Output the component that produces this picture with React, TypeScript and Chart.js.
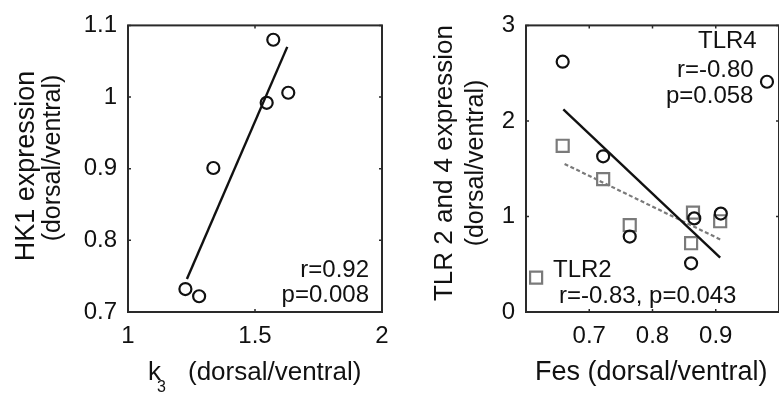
import React, { useEffect, useRef } from 'react';
import { Chart, registerables } from 'chart.js';

Chart.register(...registerables);

const FONT = "'Liberation Sans', Arial, Helvetica, sans-serif";
const INK = '#111111';
const BOX = '#2a2a2a';
const GRAY = '#7a7a7a';

// ---- Left panel: HK1 vs k3 ----
const hk1K3 = [1.572, 1.631, 1.546, 1.336, 1.226, 1.28];
const hk1Expr = [1.08, 1.006, 0.992, 0.901, 0.732, 0.722];
const hk1FitK3 = [1.232, 1.627];
const hk1FitExpr = [0.746, 1.07];
const leftXTicks = [1, 1.5, 2];
const leftXTickLabels = ['1', '1.5', '2'];
const leftYTicks = [0.7, 0.8, 0.9, 1.0, 1.1];
const leftYTickLabels = ['0.7', '0.8', '0.9', '1', '1.1'];

// ---- Right panel: TLR2 / TLR4 vs Fes ----
const tlr4Fes = [0.658, 0.722, 0.764, 0.861, 0.866, 0.908, 0.981];
const tlr4Expr = [2.62, 1.63, 0.79, 0.51, 0.98, 1.03, 2.41];
const tlr2Fes = [0.616, 0.658, 0.722, 0.764, 0.861, 0.864, 0.907];
const tlr2Expr = [0.36, 1.74, 1.39, 0.91, 0.72, 1.04, 0.95];
const tlr4FitFes = [0.659, 0.907];
const tlr4FitExpr = [2.12, 0.57];
const tlr2FitFes = [0.661, 0.907];
const tlr2FitExpr = [1.55, 0.76];
const rightXTicks = [0.7, 0.8, 0.9];
const rightXTickLabels = ['0.7', '0.8', '0.9'];
const rightYTicks = [0, 1, 2, 3];
const rightYTickLabels = ['0', '1', '2', '3'];

type TextItem = {
  text: string;
  x: number;
  y: number;
  size: number;
  align?: CanvasTextAlign;
  rotate?: boolean;
};

const pts = (xs: number[], ys: number[]) => xs.map((x, i) => ({ x, y: ys[i] }));

function makeDecor(texts: TextItem[]) {
  return {
    id: 'matlabDecor',
    afterDraw(chart: any) {
      const { ctx, chartArea } = chart;
      const { left, right, top, bottom } = chartArea;
      const xs = chart.scales.x;
      const ys = chart.scales.y;
      ctx.save();
      ctx.strokeStyle = BOX;
      ctx.lineWidth = 2;
      ctx.strokeRect(left, top, right - left, bottom - top);
      ctx.lineWidth = 1.5;
      const tl = 3;
      ctx.beginPath();
      xs.ticks.forEach((t: any) => {
        const p = xs.getPixelForValue(t.value);
        ctx.moveTo(p, bottom);
        ctx.lineTo(p, bottom - tl);
        ctx.moveTo(p, top);
        ctx.lineTo(p, top + tl);
      });
      ys.ticks.forEach((t: any) => {
        const p = ys.getPixelForValue(t.value);
        ctx.moveTo(left, p);
        ctx.lineTo(left + tl, p);
        ctx.moveTo(right, p);
        ctx.lineTo(right - tl, p);
      });
      ctx.stroke();
      ctx.fillStyle = INK;
      texts.forEach((item) => {
        ctx.save();
        ctx.font = `${item.size}px ${FONT}`;
        ctx.textAlign = item.align || 'left';
        ctx.textBaseline = 'alphabetic';
        ctx.translate(item.x, item.y);
        if (item.rotate) ctx.rotate(-Math.PI / 2);
        ctx.fillText(item.text, 0, 0);
        ctx.restore();
      });
      ctx.restore();
    },
  };
}

function axis(
  min: number,
  max: number,
  ticks: number[],
  labels: string[],
  isX: boolean,
  size: number,
  padding: number
) {
  return {
    type: 'linear' as const,
    min,
    max,
    afterBuildTicks: (s: any) => {
      s.ticks = ticks.map((v) => ({ value: v }));
    },
    afterFit: (s: any) => {
      if (isX) s.height = size;
      else s.width = size;
    },
    grid: { display: false, drawTicks: false },
    border: { display: false },
    ticks: {
      font: { family: FONT, size: 24 },
      color: INK,
      padding,
      maxRotation: 0,
      autoSkip: false,
      callback: (_v: any, i: number) => labels[i],
    },
  };
}

const circleStyle = {
  showLine: false,
  pointStyle: 'circle' as const,
  pointRadius: 6,
  pointHoverRadius: 6,
  pointBorderWidth: 2.2,
  borderColor: INK,
  pointBorderColor: INK,
  backgroundColor: 'rgba(0,0,0,0)',
  pointBackgroundColor: 'rgba(0,0,0,0)',
};

export default function App() {
  const leftRef = useRef<HTMLCanvasElement | null>(null);
  const rightRef = useRef<HTMLCanvasElement | null>(null);

  useEffect(() => {
    const leftTexts: TextItem[] = [
      { text: 'r=0.92', x: 369, y: 277, size: 24, align: 'right' },
      { text: 'p=0.008', x: 369, y: 302, size: 24, align: 'right' },
      { text: 'HK1 expression', x: 34, y: 166, size: 27, align: 'center', rotate: true },
      { text: '(dorsal/ventral)', x: 60, y: 158, size: 25, align: 'center', rotate: true },
      { text: 'k', x: 148, y: 380, size: 26 },
      { text: '3', x: 157, y: 392, size: 16 },
      { text: '(dorsal/ventral)', x: 188, y: 380, size: 26 },
    ];
    const rightTexts: TextItem[] = [
      { text: 'TLR4', x: 298, y: 48, size: 24 },
      { text: 'r=-0.80', x: 277, y: 77, size: 24 },
      { text: 'p=0.058', x: 266, y: 103, size: 24 },
      { text: 'TLR2', x: 153, y: 277, size: 24 },
      { text: 'r=-0.83, p=0.043', x: 159, y: 303, size: 24 },
      { text: 'TLR 2 and 4 expression', x: 52, y: 163, size: 26, align: 'center', rotate: true },
      { text: '(dorsal/ventral)', x: 83, y: 163, size: 25, align: 'center', rotate: true },
      { text: 'Fes (dorsal/ventral)', x: 135, y: 380, size: 27 },
    ];

    const left = new Chart(leftRef.current as HTMLCanvasElement, {
      type: 'scatter',
      data: {
        datasets: [
          {
            data: pts(hk1FitK3, hk1FitExpr),
            showLine: true,
            borderColor: INK,
            borderWidth: 2.4,
            pointRadius: 0,
            fill: false,
          } as any,
          { data: pts(hk1K3, hk1Expr), ...circleStyle } as any,
        ],
      },
      options: {
        animation: false,
        responsive: false,
        maintainAspectRatio: false,
        events: [],
        layout: { padding: { top: 21, right: 18, left: 0, bottom: 0 } },
        plugins: { legend: { display: false }, tooltip: { enabled: false } },
        scales: {
          x: axis(1, 2, leftXTicks, leftXTickLabels, true, 87, 10) as any,
          y: axis(0.7, 1.1, leftYTicks, leftYTickLabels, false, 128, 11) as any,
        },
      },
      plugins: [makeDecor(leftTexts)],
    });

    const right = new Chart(rightRef.current as HTMLCanvasElement, {
      type: 'scatter',
      data: {
        datasets: [
          {
            data: pts(tlr4FitFes, tlr4FitExpr),
            showLine: true,
            borderColor: INK,
            borderWidth: 2.4,
            pointRadius: 0,
            fill: false,
          } as any,
          {
            data: pts(tlr2FitFes, tlr2FitExpr),
            showLine: true,
            borderColor: GRAY,
            borderWidth: 2.2,
            borderDash: [4, 2.5],
            pointRadius: 0,
            fill: false,
          } as any,
          { data: pts(tlr4Fes, tlr4Expr), ...circleStyle } as any,
          {
            data: pts(tlr2Fes, tlr2Expr),
            showLine: false,
            pointStyle: 'rect',
            pointRadius: 8.5,
            pointHoverRadius: 8.5,
            pointBorderWidth: 2.2,
            borderColor: GRAY,
            pointBorderColor: GRAY,
            backgroundColor: 'rgba(0,0,0,0)',
            pointBackgroundColor: 'rgba(0,0,0,0)',
          } as any,
        ],
      },
      options: {
        animation: false,
        responsive: false,
        maintainAspectRatio: false,
        events: [],
        layout: { padding: { top: 21, right: 11, left: 0, bottom: 0 } },
        plugins: { legend: { display: false }, tooltip: { enabled: false } },
        scales: {
          x: axis(0.6, 1.0, rightXTicks, rightXTickLabels, true, 87, 10) as any,
          y: axis(0, 3, rightYTicks, rightYTickLabels, false, 126, 11) as any,
        },
      },
      plugins: [makeDecor(rightTexts)],
    });

    return () => {
      left.destroy();
      right.destroy();
    };
  }, []);

  return (
    <div
      style={{
        position: 'fixed',
        left: 0,
        top: 0,
        width: 779,
        height: 399,
        overflow: 'hidden',
        background: '#ffffff',
      }}
    >
      <canvas
        ref={leftRef}
        width={400}
        height={399}
        style={{ position: 'absolute', left: 0, top: 0, width: 400, height: 399 }}
      />
      <canvas
        ref={rightRef}
        width={390}
        height={399}
        style={{ position: 'absolute', left: 400, top: 0, width: 390, height: 399 }}
      />
    </div>
  );
}
